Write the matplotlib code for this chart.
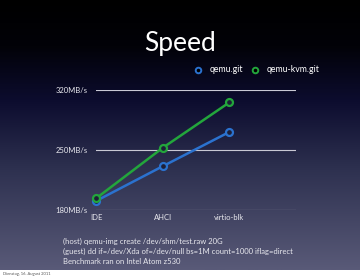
import numpy as np
import matplotlib
matplotlib.use('Agg')
import matplotlib.pyplot as plt
from matplotlib.colors import LinearSegmentedColormap

plt.rcParams['font.family'] = ['Lato', 'DejaVu Sans']

# data
categories = ['IDE', 'AHCI', 'virtio-blk']
qemu_git = [190.5, 231, 271]
qemu_kvm_git = [193.5, 252.5, 305.5]
y_ticks = [180, 250, 320]
y_labels = ['180MB/s', '250MB/s', '320MB/s']
notes = ['(host) qemu-img create /dev/shm/test.raw 20G',
         '(guest) dd if=/dev/Xda of=/dev/null bs=1M count=1000 iflag=direct',
         'Benchmark ran on Intel Atom z530']

W, H = 360, 277
fig = plt.figure(figsize=(W / 100, H / 100), dpi=100)
fig.patch.set_facecolor('white')

# slide background gradient
bg = fig.add_axes([0, 7 / H, 1, 270 / H])
cmap = LinearSegmentedColormap.from_list('slide', [
    (0.0, '#000000'), (0.17, '#020208'), (0.37, '#0c0c2e'),
    (0.63, '#2e3150'), (1.0, '#595a78')])
grad = np.linspace(0, 1, 256).reshape(-1, 1)
bg.imshow(grad, aspect='auto', cmap=cmap, extent=[0, 1, 1, 0])
bg.set_xlim(0, 1)
bg.set_ylim(1, 0)
bg.axis('off')

fig.text(180 / W, 1 - 43 / H, 'Speed', color='white', fontsize=19,
         ha='center', va='center')
fig.text(3 / W, 1 - 273.5 / H, 'Dienstag, 16. August 2011', color='#555555',
         fontsize=3, ha='left', va='center')

# chart
ax = fig.add_axes([96 / W, 1 - 210 / H, 200 / W, 120 / H])
ax.set_facecolor('none')
ax.set_xlim(0, 3)
ax.set_ylim(180, 320)
x = np.arange(len(categories))
for yt in y_ticks:
    ax.axhline(yt, color='#c8c8d4', lw=0.8, zorder=1)

blue, green = '#2b72cf', '#23a63c'
ax.plot(x, qemu_git, color=blue, lw=1.8, marker='o', ms=5, mew=1.6,
        mfc='#1d1f38', mec=blue, zorder=3, clip_on=False)
ax.plot(x, qemu_kvm_git, color=green, lw=1.8, marker='o', ms=5, mew=1.6,
        mfc='#1d1f38', mec=green, zorder=3, clip_on=False)

for s in ax.spines.values():
    s.set_visible(False)
ax.set_xticks(x)
ax.set_xticklabels(categories)
ax.set_yticks(y_ticks)
ax.set_yticklabels(y_labels)
ax.tick_params(length=0, colors='#e8e8ee', labelsize=5.5)
ax.tick_params(axis='x', pad=3)
ax.tick_params(axis='y', pad=6)

# legend
for lx, col, lab in [(198, blue, 'qemu.git'), (255, green, 'qemu-kvm.git')]:
    fig.lines.append(plt.Line2D([lx / W], [1 - 70 / H], transform=fig.transFigure,
                                marker='o', ms=4, mew=1.4, mfc='#000000', mec=col))
    fig.text((lx + 12) / W, 1 - 70 / H, lab, color='white', fontsize=6.3,
             ha='left', va='center')

for i, t in enumerate(notes):
    fig.text(63 / W, 1 - (241 + 10 * i) / H, t, color='#e8e8ee', fontsize=5.5,
             ha='left', va='center')

fig.savefig('out.png', dpi=100)
